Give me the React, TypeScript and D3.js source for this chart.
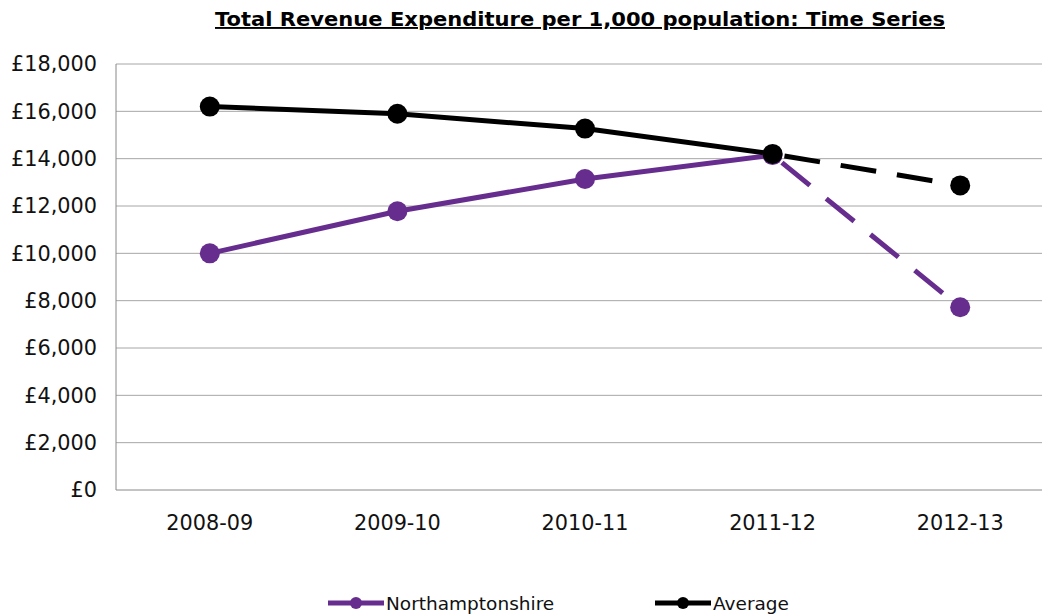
import * as d3 from 'd3';

const years = ['2008-09', '2009-10', '2010-11', '2011-12', '2012-13'];
const northamptonshire = [10000, 11780, 13140, 14150, 7720];
const average = [16200, 15900, 15270, 14200, 12870];
const yTicks = [0, 2000, 4000, 6000, 8000, 10000, 12000, 14000, 16000, 18000];

const seriesList = [
  { name: 'Northamptonshire', values: northamptonshire, color: '#662d8f' },
  { name: 'Average', values: average, color: '#000000' },
];

export default function App() {
  const W = 1042;
  const H = 614;
  const left = 116;
  const right = 1054;
  const top = 64;
  const bottom = 490;
  const font = 'DejaVu Sans, Verdana, sans-serif';

  const x = d3.scaleBand().domain(years).range([left, right]);
  const y = d3.scaleLinear().domain([0, 18000]).range([bottom, top]);
  const cx = (c: string) => x(c)! + x.bandwidth() / 2;
  const line = d3
    .line<number>()
    .x((_, i) => cx(years[i]))
    .y((d) => y(d));
  const fmt = (v: number) => '£' + d3.format(',')(v);
  const last = years.length - 1;

  return (
    <svg
      width={W}
      height={H}
      style={{ position: 'absolute', left: 0, top: 0, background: '#fff' }}
      fontFamily={font}
    >
      <text
        x={580}
        y={26}
        textAnchor="middle"
        fontSize={19}
        fontWeight="bold"
        textDecoration="underline"
        textLength={730}
        lengthAdjust="spacingAndGlyphs"
      >
        Total Revenue Expenditure per 1,000 population: Time Series
      </text>

      {/* gridlines */}
      {yTicks.map((t) => (
        <g key={t}>
          <line x1={left} x2={W} y1={y(t)} y2={y(t)} stroke={t === 0 ? '#888' : '#a6a6a6'} strokeWidth={1} />
          <text x={97} y={y(t)} dy="0.36em" textAnchor="end" fontSize={20.8} fill="#111">
            {fmt(t)}
          </text>
        </g>
      ))}
      <line x1={left} x2={left} y1={top} y2={bottom} stroke="#888" />

      {years.map((c) => (
        <text key={c} x={cx(c)} y={530} textAnchor="middle" fontSize={20.8} fill="#111">
          {c}
        </text>
      ))}

      {seriesList.map((s) => (
        <g key={s.name}>
          <path d={line(s.values.slice(0, last))!} fill="none" stroke={s.color} strokeWidth={5} />
          <line
            x1={cx(years[last - 1])}
            y1={y(s.values[last - 1])}
            x2={cx(years[last])}
            y2={y(s.values[last])}
            stroke={s.color}
            strokeWidth={5}
            strokeDasharray="36,21"
            strokeDashoffset={-12}
          />
        </g>
      ))}
      {seriesList.map((s) =>
        s.values.map((v, i) => (
          <circle key={s.name + i} cx={cx(years[i])} cy={y(v)} r={10} fill={s.color} />
        ))
      )}

      {/* legend */}
      {seriesList.map((s, i) => {
        const lx = i === 0 ? 328 : 655;
        return (
          <g key={s.name}>
            <line x1={lx} x2={lx + 56} y1={603} y2={603} stroke={s.color} strokeWidth={5} />
            <circle cx={lx + 28} cy={603} r={6} fill={s.color} />
            <text x={lx + 58} y={603} dy="0.36em" fontSize={18.5} fill="#111">
              {s.name}
            </text>
          </g>
        );
      })}
    </svg>
  );
}
